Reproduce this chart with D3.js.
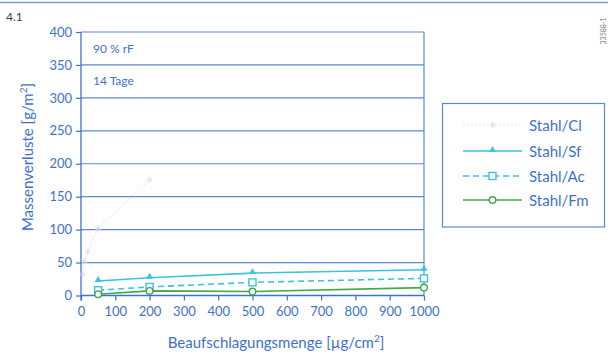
<!DOCTYPE html>
<html>
<head>
<meta charset="utf-8">
<script src="https://cdn.jsdelivr.net/npm/d3@7"></script>
<style>
  html, body { margin: 0; padding: 0; background: #fff; }
  svg { display: block; font-family: Lato, "Open Sans", sans-serif; }
</style>
</head>
<body>
<svg id="chart" width="612" height="358"></svg>
<script>
// Mass loss of steel after 14 days at 90 % RH, by deposit type
const xTicks = [0, 100, 200, 300, 400, 500, 600, 700, 800, 900, 1000];
const yTicks = [0, 50, 100, 150, 200, 250, 300, 350, 400];

const clX = [5, 10, 20, 50, 200];
const clY = [32, 52, 67, 102, 176];
const sfX = [50, 200, 500, 1000];
const sfY = [22, 27, 34, 39];
const acX = [50, 200, 500, 1000];
const acY = [8, 13, 20, 26];
const fmX = [50, 200, 500, 1000];
const fmY = [2, 7, 6, 12];

const seriesNames = ["Stahl/Cl", "Stahl/Sf", "Stahl/Ac", "Stahl/Fm"];

const blue = "#3d72cc";
const gridBlue = "#5a8ad6";

const svg = d3.select("#chart");
const x = d3.scaleLinear().domain([0, 1000]).range([81, 424]);
const y = d3.scaleLinear().domain([0, 400]).range([295.5, 32]);

// page rule and figure number
svg.append("line").attr("x1", 0).attr("x2", 608).attr("y1", 2.5).attr("y2", 2.5)
  .attr("stroke", "#6f9be0").attr("stroke-width", 1.5);
svg.append("text").attr("x", 6).attr("y", 21).attr("font-size", 12)
  .attr("fill", "#444").text("4.1");
svg.append("text").attr("transform", "translate(606,31) rotate(-90)")
  .attr("text-anchor", "middle").attr("font-size", 7).attr("fill", "#777").text("33588-1");

// horizontal grid
svg.append("g").selectAll("line").data(yTicks.filter(d => d > 0)).join("line")
  .attr("x1", x(0)).attr("x2", x(1000))
  .attr("y1", d => y(d)).attr("y2", d => y(d))
  .attr("stroke", gridBlue).attr("stroke-width", 1.2);
// right frame
svg.append("line").attr("x1", x(1000)).attr("x2", x(1000)).attr("y1", y(400)).attr("y2", y(0))
  .attr("stroke", gridBlue).attr("stroke-width", 1.2);

// axes
const yAxis = d3.axisLeft(y).tickValues(yTicks).tickSize(5).tickPadding(4).tickFormat(d3.format("d"));
const gy = svg.append("g").attr("transform", `translate(${x(0)},0)`).call(yAxis);
const xAxis = d3.axisBottom(x).tickValues(xTicks).tickSize(5).tickPadding(6).tickFormat(d3.format("d"));
const gx = svg.append("g").attr("transform", `translate(0,${y(0)})`).call(xAxis);
[gx, gy].forEach(g => {
  g.select(".domain").attr("stroke", blue).attr("stroke-width", 1.3);
  g.selectAll(".tick line").attr("stroke", blue).attr("stroke-width", 1.2);
  g.selectAll(".tick text").attr("fill", blue).attr("font-size", 13)
    .attr("font-family", "Lato, 'Open Sans', sans-serif");
});
gx.select(".domain").attr("d", `M${x(0)},0H${x(1000)}`);
gy.select(".domain").attr("d", `M0,${y(0) + 5}V${y(400)}`);

// annotations in the plot
svg.append("text").attr("x", 93).attr("y", 53).attr("font-size", 12).attr("fill", blue).text("90 % rF");
svg.append("text").attr("x", 93).attr("y", 85).attr("font-size", 12).attr("fill", blue).text("14 Tage");

// axis titles
svg.append("text").attr("transform", "translate(33,157) rotate(-90)")
  .attr("text-anchor", "middle").attr("font-size", 15).attr("fill", blue)
  .html('Massenverluste [g/m<tspan baseline-shift="super" font-size="10">2</tspan>]');
svg.append("text").attr("x", 276).attr("y", 348)
  .attr("text-anchor", "middle").attr("font-size", 15).attr("fill", blue)
  .html('Beaufschlagungsmenge [µg/cm<tspan baseline-shift="super" font-size="10">2</tspan>]');

const line = d3.line().x(d => x(d[0])).y(d => y(d[1]));
const zip = (a, b) => a.map((v, i) => [v, b[i]]);

const series = [
  { name: seriesNames[0], pts: zip(clX, clY), color: "#d9dce2", width: 1, dash: "1.5,2.5", marker: "star" },
  { name: seriesNames[1], pts: zip(sfX, sfY), color: "#38c4e2", width: 1.6, dash: null, marker: "tri" },
  { name: seriesNames[2], pts: zip(acX, acY), color: "#3ec0e4", width: 1.6, dash: "6,4", marker: "sq" },
  { name: seriesNames[3], pts: zip(fmX, fmY), color: "#43a84a", width: 1.6, dash: null, marker: "circ" }
];

function drawMarker(g, kind, color, cx, cy) {
  if (kind === "tri") {
    g.append("path").attr("d", d3.symbol(d3.symbolTriangle, 20)())
      .attr("transform", `translate(${cx},${cy - 1})`).attr("fill", color);
  } else if (kind === "sq") {
    g.append("rect").attr("x", cx - 3.5).attr("y", cy - 3.5).attr("width", 7).attr("height", 7)
      .attr("fill", "#fff").attr("stroke", color).attr("stroke-width", 1.4);
  } else if (kind === "circ") {
    g.append("circle").attr("cx", cx).attr("cy", cy).attr("r", 3.3)
      .attr("fill", "#fff").attr("stroke", color).attr("stroke-width", 1.4);
  } else if (kind === "star") {
    g.append("path").attr("d", d3.symbol(d3.symbolAsterisk, 28)())
      .attr("transform", `translate(${cx},${cy})`).attr("fill", "none")
      .attr("stroke", color).attr("stroke-width", 0.9);
  }
}

series.forEach(s => {
  const g = svg.append("g");
  g.append("path").attr("d", line(s.pts)).attr("fill", "none")
    .attr("stroke", s.color).attr("stroke-width", s.width)
    .attr("stroke-dasharray", s.dash);
  s.pts.forEach(p => drawMarker(g, s.marker, s.color, x(p[0]), y(p[1])));
});

// legend
const lg = svg.append("g");
lg.append("rect").attr("x", 442.5).attr("y", 103.5).attr("width", 162).attr("height", 123.5)
  .attr("fill", "#fff").attr("stroke", gridBlue).attr("stroke-width", 1.2);
const legendY = [125, 151, 176, 200];
series.forEach((s, i) => {
  const ly = legendY[i];
  lg.append("line").attr("x1", 463).attr("x2", 522).attr("y1", ly).attr("y2", ly)
    .attr("stroke", s.color).attr("stroke-width", s.width).attr("stroke-dasharray", s.dash);
  drawMarker(lg, s.marker, s.color, 492.5, ly);
  lg.append("text").attr("x", 529).attr("y", ly + 5.5).attr("font-size", 15)
    .attr("fill", blue).text(s.name);
});
</script>
</body>
</html>
